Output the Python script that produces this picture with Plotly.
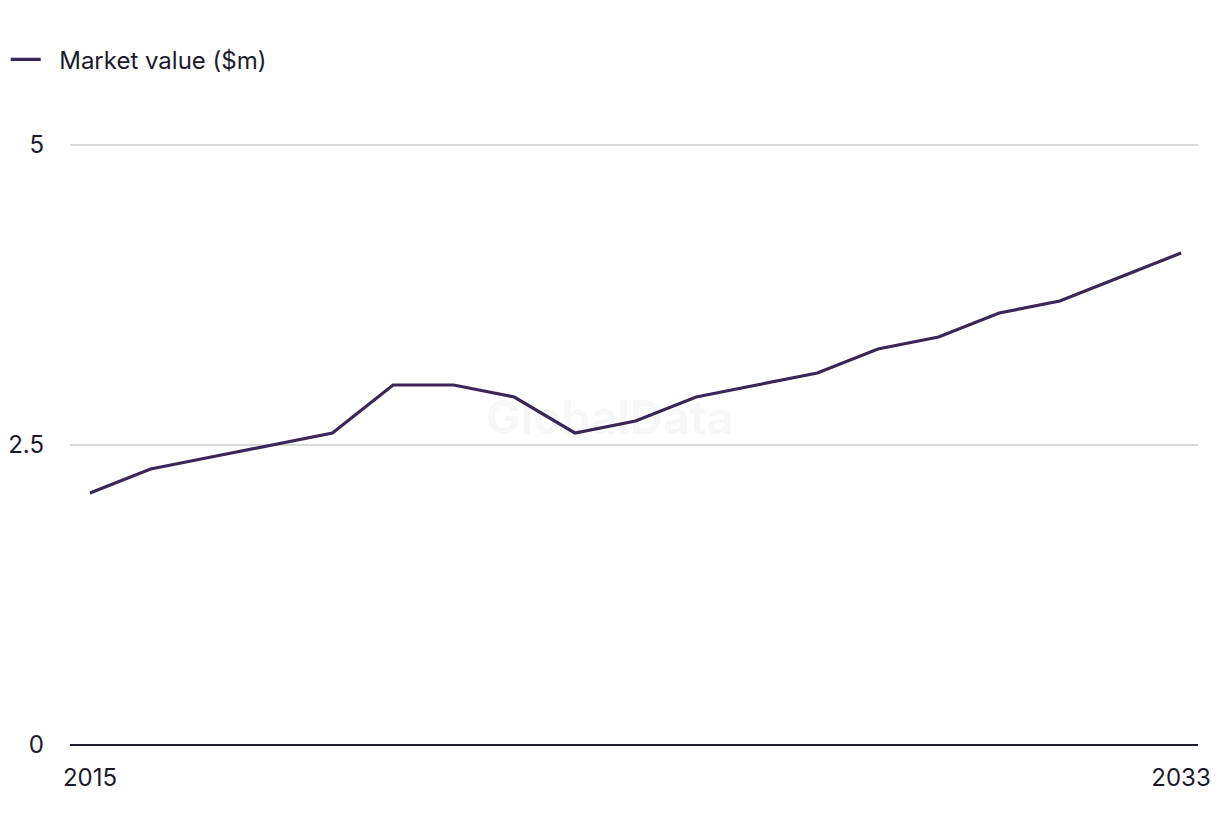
import plotly.graph_objects as go

years = list(range(2015, 2034))
market_value = [2.1, 2.3, 2.4, 2.5, 2.6, 3.0, 3.0, 2.9, 2.6, 2.7, 2.9, 3.0, 3.1, 3.3, 3.4, 3.6, 3.7, 3.9, 4.1]
y_ticks = [0, 2.5, 5]
y_tick_labels = ["0", "2.5", "5"]
x_ticks = [2015, 2033]
x_tick_labels = ["2015", "2033"]

font_family = "Inter, Liberation Sans, sans-serif"
text_color = "#1b1b2f"

fig = go.Figure()
fig.add_trace(go.Scatter(
    x=years, y=market_value, mode="lines", name="\u00a0\u00a0Market value ($m)",
    line=dict(color="#3b2659", width=3.2),
))

fig.update_layout(
    width=1220, height=836,
    margin=dict(l=70, r=22, t=144, b=91, autoexpand=False),
    paper_bgcolor="white", plot_bgcolor="white",
    font=dict(family=font_family, size=24, color=text_color),
    showlegend=True,
    legend=dict(
        x=-0.057, y=1.14, xanchor="left", yanchor="middle",
        orientation="h", font=dict(size=24, color=text_color),
        bgcolor="rgba(0,0,0,0)",
    ),
    xaxis=dict(
        range=[2014.67, 2033.28], tickvals=x_ticks, ticktext=x_tick_labels,
        showgrid=False, zeroline=False, showline=False, ticks="",
        automargin=False, ticklabelstandoff=16,
        tickfont=dict(size=24, color=text_color),
    ),
    yaxis=dict(
        range=[0, 5.0084], tickvals=y_ticks, ticktext=y_tick_labels,
        showgrid=True, gridcolor="#d9d9d9", gridwidth=1.5,
        zeroline=True, zerolinecolor="#1b1b2f", zerolinewidth=2,
        showline=False, ticks="", ticklabelstandoff=25, automargin=False,
        tickfont=dict(size=24, color=text_color),
    ),
    annotations=[dict(
        text="<b>GlobalData</b>", x=0.479, y=0.545, xref="paper", yref="paper",
        showarrow=False, font=dict(size=46, color="rgba(0,0,0,0.04)", family=font_family),
    )],
)

fig.write_html("out.html")
